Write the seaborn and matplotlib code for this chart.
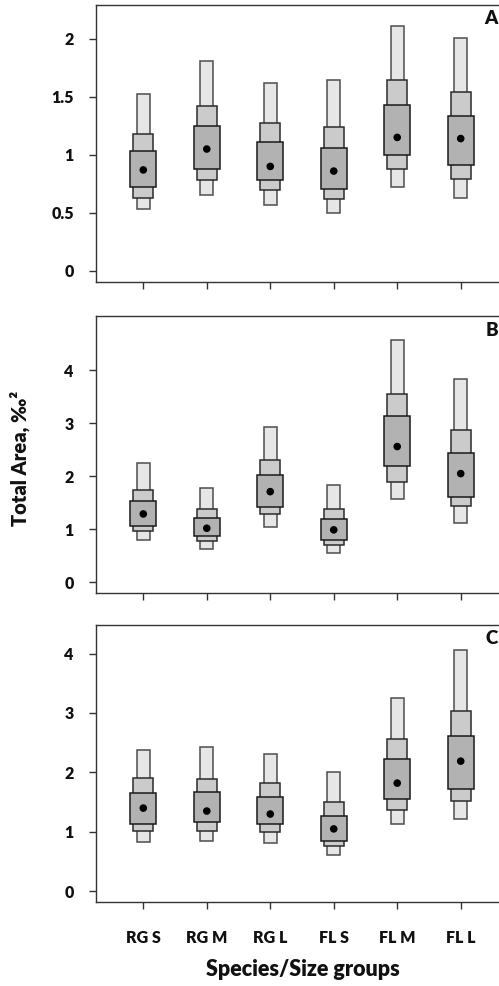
import numpy as np
import pandas as pd
import matplotlib
matplotlib.use("Agg")
import matplotlib.pyplot as plt
import seaborn as sns

groups = ["RG S", "RG M", "RG L", "FL S", "FL M", "FL L"]
panel_letters = ["A", "B", "C"]

# Panel A letter values (outer = lightest, mid, inner = darkest box)
a_outer_lo = [0.53, 0.65, 0.57, 0.50, 0.72, 0.63]
a_mid_lo = [0.63, 0.78, 0.70, 0.62, 0.88, 0.79]
a_inner_lo = [0.72, 0.88, 0.78, 0.71, 1.00, 0.91]
a_median = [0.87, 1.05, 0.90, 0.86, 1.15, 1.14]
a_inner_hi = [1.03, 1.25, 1.11, 1.06, 1.43, 1.33]
a_mid_hi = [1.18, 1.42, 1.27, 1.24, 1.64, 1.54]
a_outer_hi = [1.52, 1.81, 1.62, 1.64, 2.11, 2.01]

# Panel B
b_outer_lo = [0.80, 0.63, 1.04, 0.55, 1.57, 1.12]
b_mid_lo = [0.97, 0.78, 1.28, 0.70, 1.90, 1.44]
b_inner_lo = [1.06, 0.87, 1.42, 0.80, 2.20, 1.61]
b_median = [1.29, 1.02, 1.71, 0.99, 2.56, 2.05]
b_inner_hi = [1.53, 1.22, 2.03, 1.19, 3.14, 2.43]
b_mid_hi = [1.75, 1.39, 2.31, 1.39, 3.55, 2.88]
b_outer_hi = [2.25, 1.78, 2.93, 1.83, 4.56, 3.83]

# Panel C
c_outer_lo = [0.83, 0.85, 0.81, 0.61, 1.14, 1.22]
c_mid_lo = [1.02, 1.02, 1.00, 0.76, 1.37, 1.52]
c_inner_lo = [1.14, 1.17, 1.13, 0.85, 1.55, 1.72]
c_median = [1.40, 1.35, 1.30, 1.05, 1.82, 2.19]
c_inner_hi = [1.65, 1.67, 1.59, 1.27, 2.22, 2.61]
c_mid_hi = [1.90, 1.89, 1.82, 1.50, 2.56, 3.04]
c_outer_hi = [2.38, 2.43, 2.31, 2.01, 3.26, 4.06]

a_ticks = [0, 0.5, 1, 1.5, 2]
b_ticks = [0, 1, 2, 3, 4]
c_ticks = [0, 1, 2, 3, 4]

panels = [
    (a_outer_lo, a_mid_lo, a_inner_lo, a_median, a_inner_hi, a_mid_hi, a_outer_hi, a_ticks, (-0.095, 2.29)),
    (b_outer_lo, b_mid_lo, b_inner_lo, b_median, b_inner_hi, b_mid_hi, b_outer_hi, b_ticks, (-0.2, 5.02)),
    (c_outer_lo, c_mid_lo, c_inner_lo, c_median, c_inner_hi, c_mid_hi, c_outer_hi, c_ticks, (-0.18, 4.48)),
]

sns.set_theme(style="ticks")
plt.rcParams["font.family"] = ["Lato", "DejaVu Sans"]
plt.rcParams["font.weight"] = "heavy"

W, H = 499, 986
fig = plt.figure(figsize=(W / 100, H / 100), dpi=100)

ax_left = 96 / W
ax_width = (508 - 96) / W
tops = [5, 316, 625]
ax_h_px = 277

pos = np.arange(len(groups))
spine_col = "#333333"
txt_col = "#111111"
WEIGHT = "heavy"

for i, (olo, mlo, ilo, med, ihi, mhi, ohi, ticks, ylim) in enumerate(panels):
    top = tops[i]
    ax = fig.add_axes([ax_left, 1 - (top + ax_h_px) / H, ax_width, ax_h_px / H])
    olo, mlo, ilo, med, ihi, mhi, ohi = map(np.asarray, (olo, mlo, ilo, med, ihi, mhi, ohi))
    ax.bar(pos, ohi - olo, bottom=olo, width=0.20, color="#e6e6e6",
           edgecolor="#4d4d4d", linewidth=1.1, zorder=2)
    ax.bar(pos, mhi - mlo, bottom=mlo, width=0.315, color="#cbcbcb",
           edgecolor="#2b2b2b", linewidth=1.1, zorder=3)
    ax.bar(pos, ihi - ilo, bottom=ilo, width=0.41, color="#b2b2b2",
           edgecolor="#1a1a1a", linewidth=1.1, zorder=4)
    df = pd.DataFrame({"x": pos, "median": med})
    sns.scatterplot(data=df, x="x", y="median", ax=ax, color="black", s=30,
                    edgecolor="none", zorder=5, legend=False)
    ax.set_xlim(-0.745, 5.745)
    ax.set_ylim(*ylim)
    ax.set_yticks(ticks)
    ax.set_yticklabels([f"{t:g}" for t in ticks])
    ax.set_xticks(pos)
    if i == 2:
        ax.set_xticklabels(groups)
    else:
        ax.set_xticklabels([])
    ax.set_xlabel("")
    ax.set_ylabel("")
    for side in ["left", "bottom", "top", "right"]:
        ax.spines[side].set_visible(True)
        ax.spines[side].set_color(spine_col)
        ax.spines[side].set_linewidth(1.0)
    ax.tick_params(axis="both", direction="out", length=5, width=1.0,
                   color=spine_col, labelsize=11.5, labelcolor=txt_col)
    ax.tick_params(axis="y", pad=11)
    ax.tick_params(axis="x", pad=15)
    for lab in ax.get_xticklabels() + ax.get_yticklabels():
        lab.set_fontweight(WEIGHT)
    fig.text(498 / W, 1 - (top + 14) / H, panel_letters[i], ha="right", va="center",
             fontsize=13.5, fontweight=WEIGHT, color=txt_col)

fig.text(20 / W, 1 - 458 / H, "Total Area, ‰²", rotation=90, ha="center", va="center",
         fontsize=14.5, fontweight=WEIGHT, color=txt_col)
fig.text(303 / W, 1 - 969 / H, "Species/Size groups", ha="center", va="center",
         fontsize=15.5, fontweight=WEIGHT, color=txt_col)

fig.savefig("out.png", dpi=100)
